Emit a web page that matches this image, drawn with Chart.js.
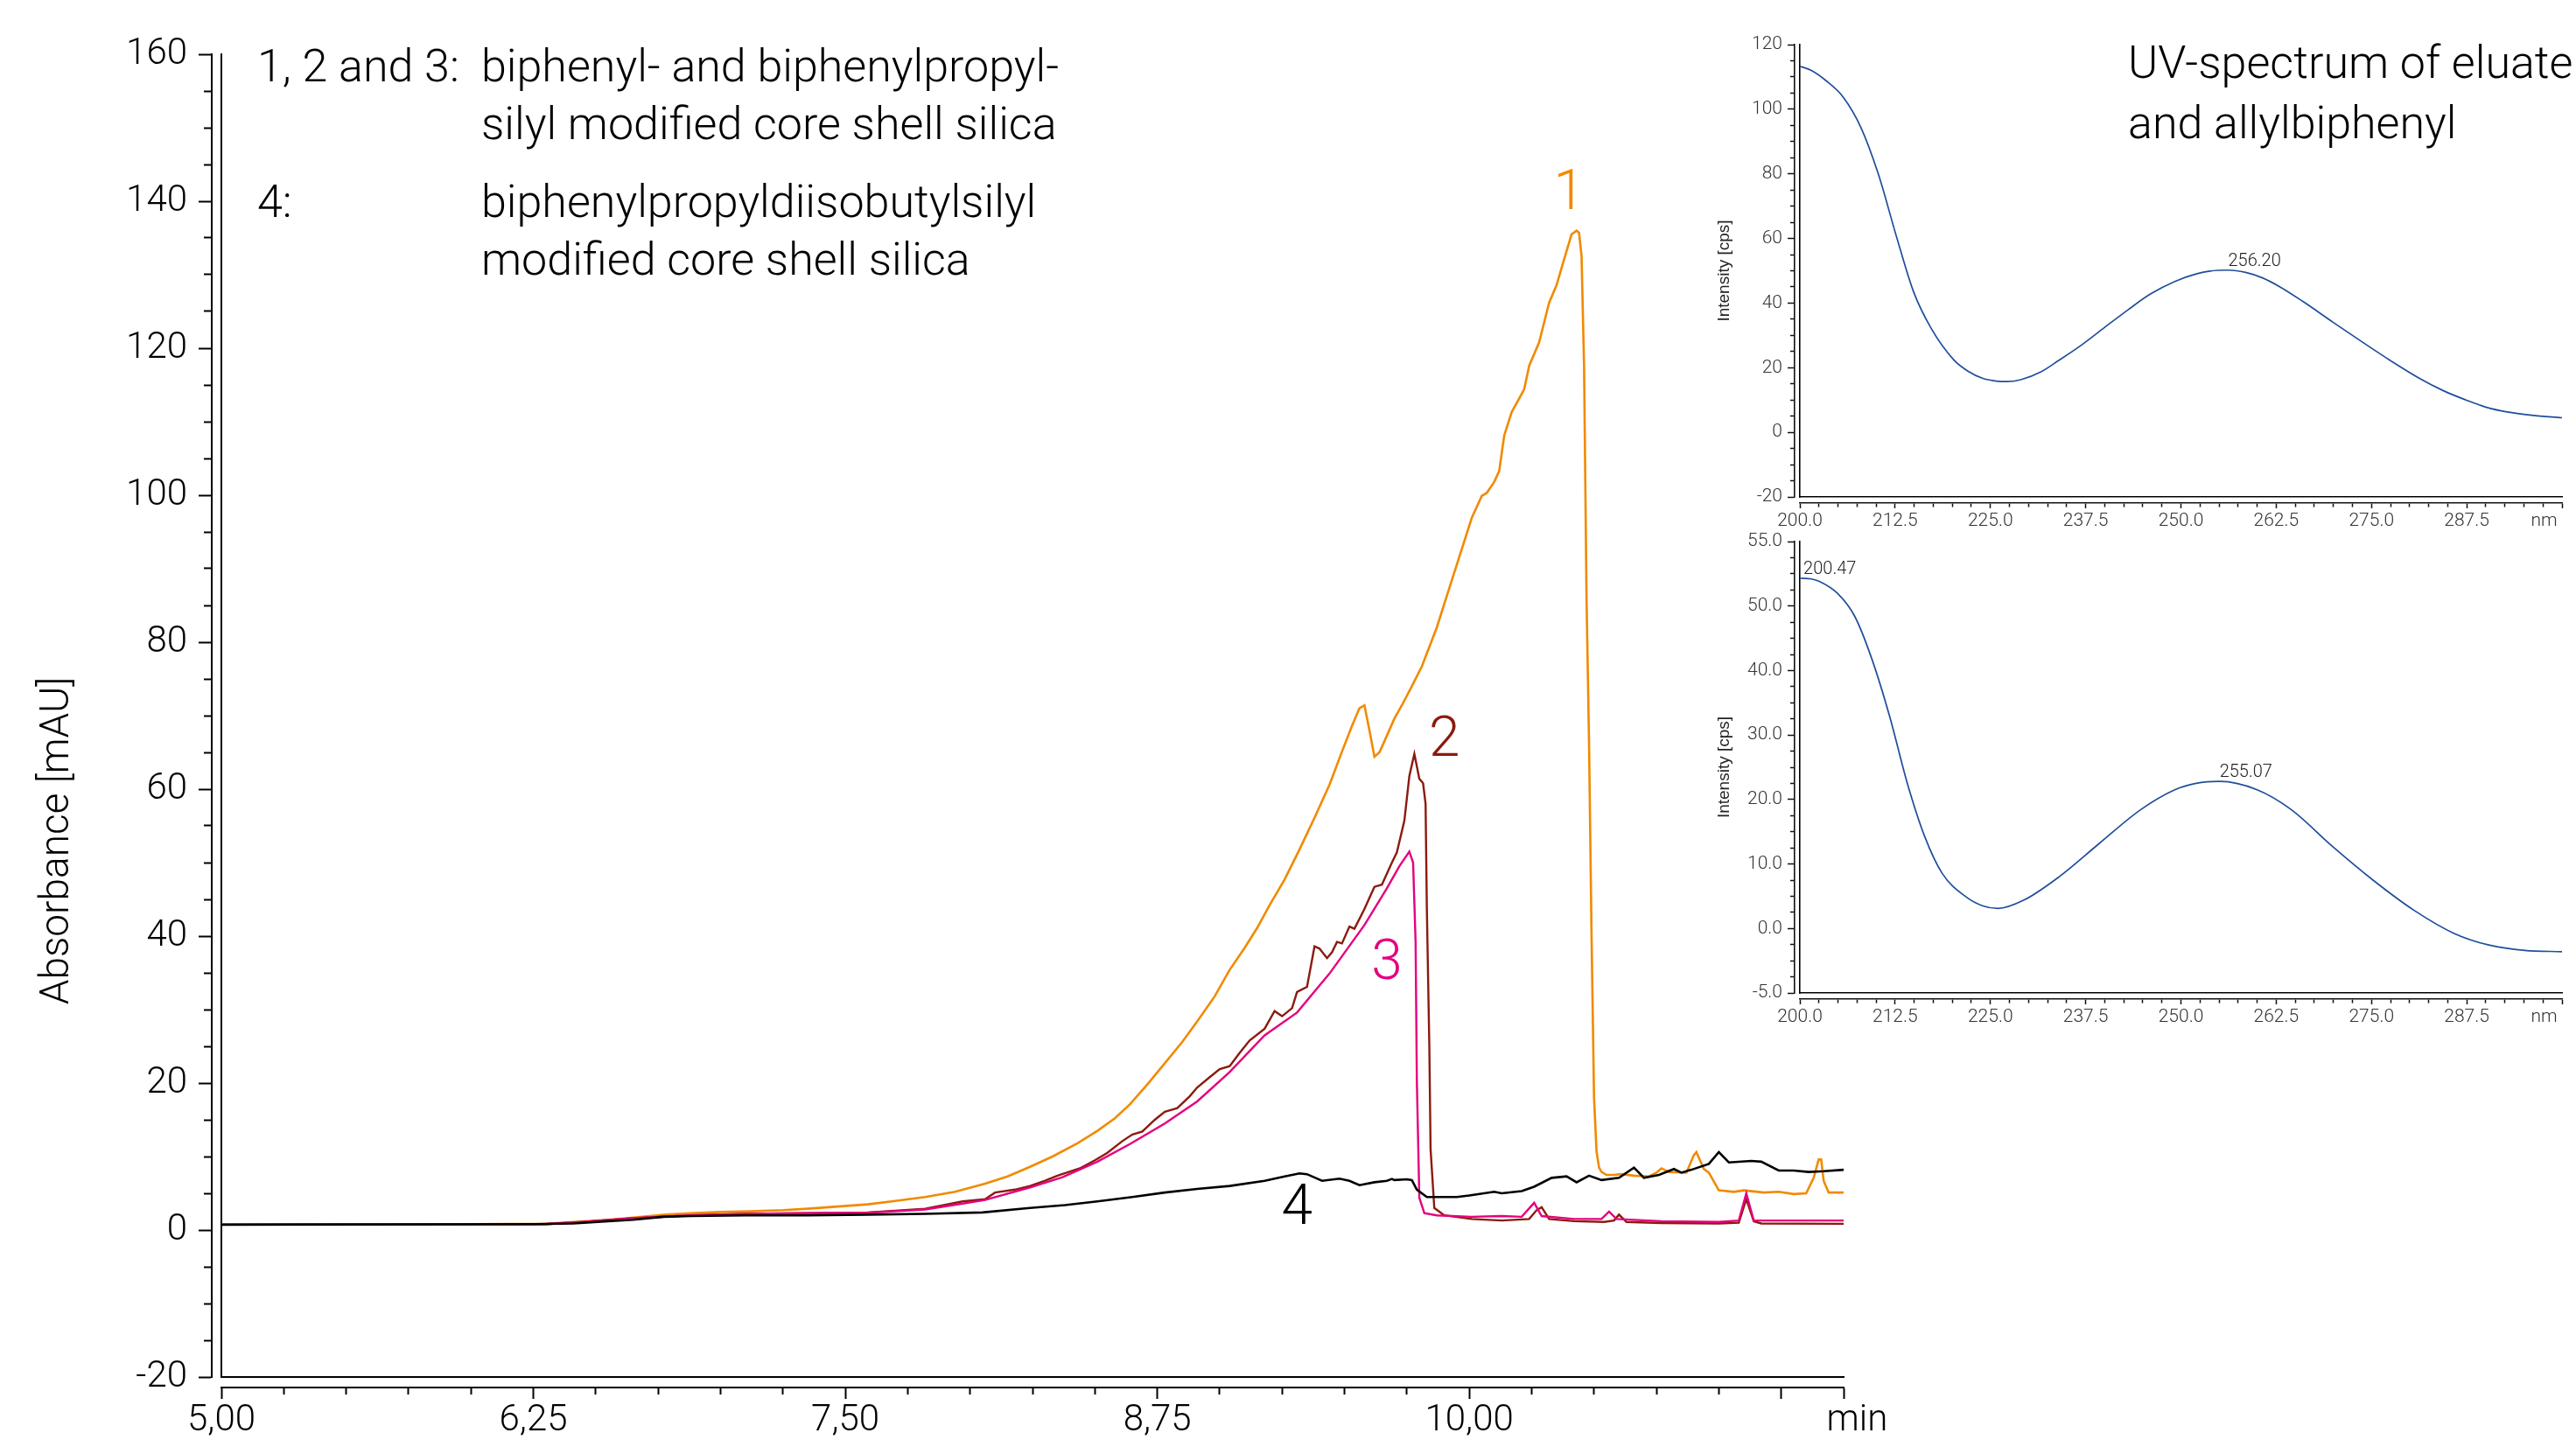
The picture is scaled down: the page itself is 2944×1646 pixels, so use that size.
<!DOCTYPE html>
<html>
<head>
<meta charset="utf-8">
<script src="https://cdn.jsdelivr.net/npm/chart.js@4.4.1/dist/chart.umd.min.js"></script>
<style>
  html, body { margin:0; padding:0; background:#ffffff; }
  #stage { position:relative; width:2944px; height:1646px; overflow:hidden; background:#ffffff; }
  #stage canvas { position:absolute; left:0; top:0; }
  .note { position:absolute; white-space:nowrap; font-family:Roboto, 'Liberation Sans', Arial, sans-serif; font-weight:300; font-size:52px; line-height:60px; color:#000; }
</style>
</head>
<body>
<div id="stage">
  <canvas id="chromChart" width="2944" height="1646"></canvas>
  <canvas id="uvTopChart" width="2944" height="1646"></canvas>
  <canvas id="uvBottomChart" width="2944" height="1646"></canvas>
  <div class="note" style="left:294px;top:46px;">1, 2 and 3:</div>
  <div class="note" style="left:550px;top:46px;">biphenyl- and biphenylpropyl-</div>
  <div class="note" style="left:550px;top:112px;">silyl modified core shell silica</div>
  <div class="note" style="left:294px;top:201px;">4:</div>
  <div class="note" style="left:550px;top:201px;">biphenylpropyldiisobutylsilyl</div>
  <div class="note" style="left:550px;top:267px;">modified core shell silica</div>
  <div class="note" style="left:2432px;top:42px;">UV-spectrum of eluate</div>
  <div class="note" style="left:2432px;top:111px;">and allylbiphenyl</div>
</div>
<script>
// ===================== DATA =====================
// Chromatogram: [time (min), absorbance (mAU)]
const series1 = [[5.00,0.75],[5.50,0.8],[6.00,0.8],[6.30,0.85],[6.41,1.1],[6.55,1.4],[6.65,1.7],[6.78,2.1],[6.88,2.3],[7.00,2.45],[7.12,2.55],[7.25,2.7],[7.35,2.9],[7.47,3.2],[7.59,3.5],[7.70,3.95],[7.82,4.5],[7.94,5.2],[8.06,6.3],[8.15,7.3],[8.24,8.6],[8.33,10.0],[8.43,11.8],[8.51,13.5],[8.58,15.2],[8.64,17.1],[8.71,19.8],[8.78,22.7],[8.85,25.6],[8.91,28.4],[8.98,31.8],[9.04,35.4],[9.10,38.4],[9.15,41.1],[9.20,44.2],[9.26,47.7],[9.32,51.8],[9.38,56.1],[9.44,60.6],[9.49,65.1],[9.53,68.6],[9.56,71.0],[9.58,71.4],[9.60,68.0],[9.62,64.4],[9.64,65.0],[9.66,66.5],[9.70,69.6],[9.73,71.4],[9.77,74.0],[9.81,76.7],[9.87,82.0],[9.91,86.3],[9.96,91.6],[10.01,96.9],[10.05,99.9],[10.07,100.3],[10.10,101.8],[10.12,103.3],[10.14,108.1],[10.17,111.3],[10.22,114.4],[10.24,117.6],[10.28,120.8],[10.32,126.2],[10.35,128.6],[10.38,132.1],[10.41,135.5],[10.43,136.0],[10.44,135.7],[10.45,132.5],[10.46,117.6],[10.47,85.8],[10.48,66.2],[10.49,40.0],[10.50,18.0],[10.51,10.7],[10.52,8.5],[10.53,7.9],[10.55,7.5],[10.58,7.5],[10.61,7.6],[10.66,7.4],[10.72,7.3],[10.75,7.8],[10.77,8.4],[10.80,7.9],[10.87,7.8],[10.90,10.2],[10.91,10.6],[10.94,8.3],[10.96,7.8],[11.00,5.4],[11.06,5.2],[11.10,5.4],[11.18,5.1],[11.24,5.2],[11.30,4.9],[11.35,5.0],[11.38,7.1],[11.40,9.6],[11.41,9.6],[11.42,6.7],[11.44,5.1],[11.50,5.1]];
const series2 = [[5.00,0.75],[5.50,0.8],[6.00,0.8],[6.30,0.8],[6.45,1.1],[6.65,1.6],[6.88,2.0],[7.10,2.2],[7.35,2.3],[7.59,2.4],[7.82,2.9],[7.97,3.9],[8.06,4.2],[8.10,5.1],[8.18,5.5],[8.24,6.0],[8.30,6.7],[8.35,7.4],[8.44,8.4],[8.50,9.5],[8.55,10.5],[8.61,12.1],[8.65,13.0],[8.69,13.4],[8.74,15.0],[8.78,16.1],[8.83,16.6],[8.88,18.2],[8.91,19.4],[8.96,20.8],[9.00,21.9],[9.04,22.3],[9.08,24.1],[9.12,25.8],[9.18,27.4],[9.22,29.8],[9.25,29.1],[9.29,30.2],[9.31,32.4],[9.35,33.1],[9.38,38.6],[9.40,38.3],[9.43,37.0],[9.45,37.8],[9.47,39.2],[9.49,39.0],[9.52,41.3],[9.54,41.0],[9.58,43.7],[9.62,46.7],[9.65,47.0],[9.69,50.0],[9.71,51.4],[9.74,55.7],[9.76,61.8],[9.78,64.8],[9.80,61.4],[9.815,60.8],[9.825,58.0],[9.83,43.9],[9.84,25.1],[9.845,11.0],[9.86,3.0],[9.90,2.0],[10.01,1.5],[10.13,1.3],[10.24,1.5],[10.27,2.7],[10.29,3.1],[10.32,1.5],[10.42,1.2],[10.54,1.1],[10.58,1.3],[10.60,2.1],[10.63,1.1],[10.77,0.95],[11.00,0.9],[11.08,1.0],[11.11,4.2],[11.14,1.2],[11.17,0.9],[11.50,0.85]];
const series3 = [[5.00,0.75],[6.30,0.8],[6.45,1.1],[6.65,1.6],[6.88,2.0],[7.10,2.2],[7.35,2.3],[7.59,2.35],[7.82,2.8],[7.97,3.6],[8.06,4.1],[8.24,5.8],[8.37,7.2],[8.51,9.3],[8.64,11.7],[8.78,14.5],[8.91,17.5],[9.04,21.5],[9.18,26.5],[9.31,29.6],[9.44,34.9],[9.58,41.5],[9.67,46.5],[9.72,49.5],[9.76,51.5],[9.775,50.0],[9.785,39.2],[9.79,20.3],[9.80,4.4],[9.82,2.3],[9.87,2.0],[10.01,1.8],[10.13,1.9],[10.21,1.8],[10.26,3.7],[10.29,1.9],[10.42,1.5],[10.53,1.5],[10.56,2.5],[10.59,1.5],[10.77,1.2],[11.00,1.1],[11.08,1.3],[11.11,5.0],[11.14,1.3],[11.50,1.3]];
const series4 = [[5.00,0.71],[6.25,0.8],[6.41,0.9],[6.55,1.2],[6.65,1.4],[6.77,1.8],[6.88,1.9],[7.10,2.0],[7.35,2.0],[7.59,2.1],[7.82,2.2],[8.05,2.4],[8.24,3.0],[8.38,3.4],[8.51,3.9],[8.65,4.5],[8.78,5.1],[8.91,5.6],[9.04,6.0],[9.18,6.7],[9.26,7.3],[9.32,7.7],[9.35,7.6],[9.41,6.7],[9.48,7.0],[9.52,6.7],[9.56,6.1],[9.62,6.5],[9.67,6.7],[9.69,6.95],[9.70,6.8],[9.75,6.9],[9.77,6.8],[9.79,5.5],[9.83,4.5],[9.95,4.5],[10.00,4.7],[10.10,5.2],[10.13,5.0],[10.21,5.3],[10.26,5.9],[10.33,7.1],[10.39,7.3],[10.43,6.5],[10.48,7.4],[10.53,6.8],[10.60,7.1],[10.66,8.5],[10.70,7.1],[10.76,7.5],[10.82,8.3],[10.85,7.8],[10.89,8.2],[10.96,9.0],[11.00,10.6],[11.04,9.2],[11.13,9.4],[11.17,9.3],[11.24,8.1],[11.30,8.1],[11.36,7.9],[11.42,8.0],[11.50,8.2]];

// UV spectra: [wavelength (nm), intensity (cps)]
const uvTop = [[200,113.3],[201.5,112.0],[203.4,108.9],[205.7,103.7],[208.0,94.4],[210.3,79.9],[212.6,61.2],[214.9,43.6],[217.2,32.3],[220.2,22.4],[222.0,19.0],[224.0,16.7],[226.0,15.8],[227.1,15.7],[229.0,16.3],[231.7,18.8],[234.0,22.3],[237.0,27.1],[240.0,32.5],[243.1,38.0],[246.0,42.8],[249.2,46.7],[252.0,49.0],[253.8,49.9],[256.2,50.2],[258.5,49.5],[260.7,47.8],[263.0,45.0],[266.0,40.5],[270.0,34.0],[273.7,28.1],[277.5,22.2],[281.3,16.7],[284.5,12.8],[287.4,10.0],[290.0,7.8],[292.8,6.3],[296.0,5.3],[300.0,4.5]];
const uvBottom = [[200,54.3],[201.5,54.2],[202.6,53.8],[204.9,52.0],[207.2,48.4],[209.5,41.6],[211.8,32.8],[214.1,22.5],[216.4,14.2],[218.7,8.5],[221.8,4.9],[224.0,3.5],[226.0,3.1],[229.4,4.4],[234.0,8.0],[239.3,13.2],[244.7,18.4],[249.2,21.5],[252.0,22.5],[255.07,22.8],[260.0,21.5],[264.5,18.4],[269.9,12.7],[275.2,7.5],[280.6,2.8],[285.9,-0.8],[290.5,-2.6],[295.1,-3.4],[300,-3.6]];

// Peak labels
const uvTopPeaks = [{text:'256.20', nm:256.2, cps:50.2}];
const uvBottomPeaks = [{text:'200.47', nm:200.47, cps:54.3}, {text:'255.07', nm:255.07, cps:22.8}];

// Curve number tags (data coordinates)
const curveTags = [
  {text:'1', t:10.40, v:140.8, color:'#F18A00'},
  {text:'2', t:9.90, v:66.4, color:'#8B1A0E'},
  {text:'3', t:9.67, v:36.1, color:'#E5007E'},
  {text:'4', t:9.31, v:2.7, color:'#000000'}
];

// Ticks and labels
const timeTickValues = [5.00,5.25,5.50,5.75,6.00,6.25,6.50,6.75,7.00,7.25,7.50,7.75,8.00,8.25,8.50,8.75,9.00,9.25,9.50,9.75,10.00,10.25,10.50,10.75,11.00,11.25,11.50];
const timeMajorValues = [5.00,6.25,7.50,8.75,10.00,11.25,11.50];
const timeLabelValues = [5.00,6.25,7.50,8.75,10.00,11.50];
const timeLabelTexts = ['5,00','6,25','7,50','8,75','10,00','min'];

const absTickValues = [-20,-15,-10,-5,0,5,10,15,20,25,30,35,40,45,50,55,60,65,70,75,80,85,90,95,100,105,110,115,120,125,130,135,140,145,150,155,160];
const absLabelValues = [-20,0,20,40,60,80,100,120,140,160];
const absLabelTexts = ['-20','0','20','40','60','80','100','120','140','160'];

const nmTickValues = [200,202.5,205,207.5,210,212.5,215,217.5,220,222.5,225,227.5,230,232.5,235,237.5,240,242.5,245,247.5,250,252.5,255,257.5,260,262.5,265,267.5,270,272.5,275,277.5,280,282.5,285,287.5,290,292.5,295,297.5,300];
const nmLabelValues = [200,212.5,225,237.5,250,262.5,275,287.5,300];
const nmLabelTexts = ['200.0','212.5','225.0','237.5','250.0','262.5','275.0','287.5','nm'];

const cpsTopTickValues = [-20,-15,-10,-5,0,5,10,15,20,25,30,35,40,45,50,55,60,65,70,75,80,85,90,95,100,105,110,115,120];
const cpsTopLabelValues = [-20,0,20,40,60,80,100,120];
const cpsTopLabelTexts = ['-20','0','20','40','60','80','100','120'];

const cpsBottomTickValues = [-10,-7.5,-5,-2.5,0,2.5,5,7.5,10,12.5,15,17.5,20,22.5,25,27.5,30,32.5,35,37.5,40,42.5,45,47.5,50,52.5,55,57.5,60];
const cpsBottomLabelValues = [-10,0,10,20,30,40,50,60];
const cpsBottomLabelTexts = ['-5.0','0.0','10.0','20.0','30.0','40.0','50.0','55.0'];

// ===================== HELPERS =====================
const FONT = "Roboto, 'Liberation Sans', Arial, Helvetica, sans-serif";
const FONT_REG = "'Liberation Sans', Arial, Helvetica, sans-serif";
const near = (a, b) => Math.abs(a - b) < 1e-6;
const inList = (v, list) => list.some(u => near(u, v));
const labelFor = (v, vals, texts) => { const i = vals.findIndex(u => near(u, v)); return i >= 0 ? texts[i] : ''; };
const toXY = arr => arr.map(p => ({x: p[0], y: p[1]}));

function fixedBox(size) {
  return function(scale) {
    if (scale.isHorizontal()) scale.height = size; else scale.width = size;
    scale.paddingLeft = 0; scale.paddingRight = 0; scale.paddingTop = 0; scale.paddingBottom = 0;
  };
}
function useTicks(values) {
  return function(scale) { scale.ticks = values.map(v => ({value: v})); };
}
// minor ticks shorter: dash pattern on the tick line
function tickDash(majors, minorLen, totalLen, fromOuter) {
  return {
    dash: ctx => (!ctx.tick || inList(ctx.tick.value, majors)) ? [] : [minorLen, totalLen + 20],
    offset: ctx => (!ctx.tick || inList(ctx.tick.value, majors)) ? 0 : (fromOuter ? (minorLen + totalLen + 20) - (totalLen - minorLen) : 0)
  };
}
function frameScale(pos, min, max, size, lw) {
  return {
    type: 'linear', position: pos, min: min, max: max, weight: 0, display: true,
    afterFit: fixedBox(size),
    grid: {display: false, drawTicks: false},
    ticks: {display: false},
    border: {display: true, color: '#000', width: lw}
  };
}

// ===================== MAIN CHROMATOGRAM =====================
const xDash = tickDash(timeMajorValues, 7, 13, false);
const yDash = tickDash(absLabelValues, 9, 15, true);

const chromText = {
  id: 'chromText',
  afterDraw(chart) {
    const {ctx, scales} = chart;
    const xs = scales.x, ys = scales.y;
    ctx.save();
    ctx.textAlign = 'center';
    ctx.textBaseline = 'middle';
    ctx.font = '300 64px ' + FONT;
    curveTags.forEach(tag => {
      ctx.fillStyle = tag.color;
      ctx.fillText(tag.text, xs.getPixelForValue(tag.t), ys.getPixelForValue(tag.v));
    });
    ctx.restore();
    ctx.save();
    ctx.translate(ys.left + 66, chart.chartArea.top + 899);
    ctx.rotate(-Math.PI / 2);
    ctx.textAlign = 'center';
    ctx.textBaseline = 'middle';
    ctx.fillStyle = '#000';
    ctx.font = '300 46px ' + FONT;
    ctx.fillText('Absorbance [mAU]', 0, 0);
    ctx.restore();
  }
};

function lineSet(label, arr, color, width, order) {
  return {
    label: label, data: toXY(arr), borderColor: color, backgroundColor: color,
    borderWidth: width, pointRadius: 0, fill: false, tension: 0, order: order,
    xAxisID: 'x', yAxisID: 'y'
  };
}

new Chart(document.getElementById('chromChart'), {
  type: 'line',
  data: {
    datasets: [
      lineSet('4', series4, '#000000', 2.6, 0),
      lineSet('3', series3, '#E5007E', 2.4, 1),
      lineSet('2', series2, '#8B1A0E', 2.4, 2),
      lineSet('1', series1, '#F18A00', 2.6, 3)
    ]
  },
  options: {
    responsive: false, animation: false, devicePixelRatio: 1,
    layout: {padding: {left: 0, top: 62, right: 837, bottom: 0}},
    plugins: {legend: {display: false}, tooltip: {enabled: false}},
    elements: {point: {radius: 0}},
    scales: {
      x: {
        type: 'linear', position: 'bottom', min: 5, max: 11.5, weight: 1,
        afterBuildTicks: useTicks(timeTickValues),
        afterFit: fixedBox(60),
        grid: {display: true, drawOnChartArea: false, drawTicks: true, tickLength: 13, tickWidth: 2, tickColor: '#000',
               tickBorderDash: xDash.dash, tickBorderDashOffset: xDash.offset},
        border: {display: true, color: '#000', width: 2},
        ticks: {autoSkip: false, maxRotation: 0, minRotation: 0, padding: 0, color: '#000',
                font: {family: FONT, size: 42, weight: '300'},
                callback: v => { const s = labelFor(v, timeLabelValues, timeLabelTexts); return s === 'min' ? '   min' : s; }}
      },
      xFrame: frameScale('bottom', 5, 11.5, 12, 2),
      y: {
        type: 'linear', position: 'left', min: -20, max: 160, weight: 1,
        afterBuildTicks: useTicks(absTickValues),
        afterFit: fixedBox(242),
        grid: {display: true, drawOnChartArea: false, drawTicks: true, tickLength: 15, tickWidth: 2, tickColor: '#000',
               tickBorderDash: yDash.dash, tickBorderDashOffset: yDash.offset},
        border: {display: true, color: '#000', width: 2},
        ticks: {autoSkip: false, padding: 13, color: '#000', font: {family: FONT, size: 42, weight: '300'},
                callback: v => labelFor(v, absLabelValues, absLabelTexts)}
      },
      yFrame: frameScale('left', -20, 160, 11, 2)
    }
  },
  plugins: [chromText]
});

// ===================== UV INSETS =====================
function peakPlugin(peaks) {
  return {
    id: 'peakText',
    afterDraw(chart) {
      const {ctx, scales} = chart;
      ctx.save();
      ctx.font = '300 20px ' + FONT;
      ctx.fillStyle = '#222';
      ctx.textAlign = 'left';
      ctx.textBaseline = 'alphabetic';
      peaks.forEach(p => {
        ctx.fillText(p.text, scales.x.getPixelForValue(p.nm), scales.y.getPixelForValue(p.cps) - 5);
      });
      ctx.restore();
    }
  };
}

function uvChart(id, spectrum, peaks, yMin, yMax, yTicks, yLabelVals, yLabelTexts, areaTop, areaBottom) {
  const nxDash = tickDash(nmLabelValues, 4, 6, false);
  const nyDash = tickDash(yLabelVals, 5, 8, true);
  return new Chart(document.getElementById(id), {
    type: 'line',
    data: {datasets: [{
      label: 'UV', data: toXY(spectrum), borderColor: '#1F4E9A', borderWidth: 1.7,
      pointRadius: 0, fill: false, cubicInterpolationMode: 'monotone', xAxisID: 'x', yAxisID: 'y'
    }]},
    options: {
      responsive: false, animation: false, devicePixelRatio: 1,
      layout: {padding: {left: 1945, top: areaTop, right: 16, bottom: 1646 - areaBottom - 7 - 40}},
      plugins: {legend: {display: false}, tooltip: {enabled: false}},
      scales: {
        x: {
          type: 'linear', position: 'bottom', min: 200, max: 300, weight: 1,
          afterBuildTicks: useTicks(nmTickValues),
          afterFit: fixedBox(40),
          grid: {display: true, drawOnChartArea: false, drawTicks: true, tickLength: 6, tickWidth: 1.5, tickColor: '#111',
                 tickBorderDash: nxDash.dash, tickBorderDashOffset: nxDash.offset},
          border: {display: true, color: '#111', width: 1.6},
          ticks: {autoSkip: false, maxRotation: 0, minRotation: 0, padding: 2, color: '#333',
                  font: {family: FONT, size: 21, weight: '300'},
                  callback: v => { const s = labelFor(v, nmLabelValues, nmLabelTexts); return s === 'nm' ? 'nm        ' : s; }}
        },
        xFrame: frameScale('bottom', 200, 300, 7, 1.6),
        y: {
          type: 'linear', position: 'left', min: yMin, max: yMax, weight: 1,
          afterBuildTicks: useTicks(yTicks),
          afterFit: fixedBox(106),
          title: {display: true, text: 'Intensity [cps]', color: '#222', font: {family: FONT_REG, size: 19}, padding: {top: 14, bottom: 0}},
          grid: {display: true, drawOnChartArea: false, drawTicks: true, tickLength: 8, tickWidth: 1.5, tickColor: '#111',
                 tickBorderDash: nyDash.dash, tickBorderDashOffset: nyDash.offset},
          border: {display: true, color: '#111', width: 1.6},
          ticks: {autoSkip: false, padding: 6, color: '#333', font: {family: FONT, size: 21, weight: '300'},
                  callback: v => labelFor(v, yLabelVals, yLabelTexts)}
        },
        yFrame: frameScale('left', yMin, yMax, 6, 1.6)
      }
    },
    plugins: [peakPlugin(peaks)]
  });
}

uvChart('uvTopChart', uvTop, uvTopPeaks, -20, 120, cpsTopTickValues, cpsTopLabelValues, cpsTopLabelTexts, 51, 568);
uvChart('uvBottomChart', uvBottom, uvBottomPeaks, -10, 60, cpsBottomTickValues, cpsBottomLabelValues, cpsBottomLabelTexts, 619, 1135);
</script>
</body>
</html>
